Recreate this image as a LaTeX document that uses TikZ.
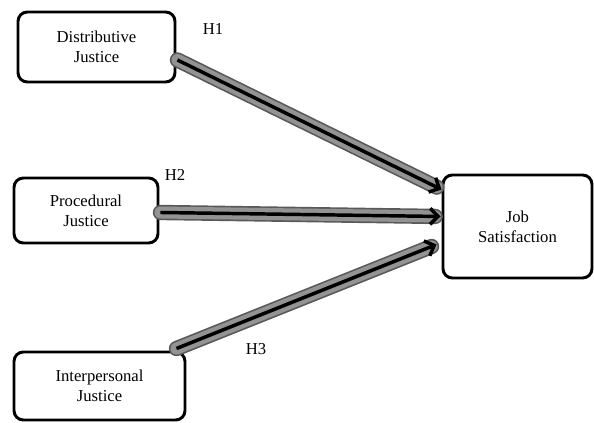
\documentclass[tikz,border=0pt]{standalone}
\usepackage{fontspec}
\setmainfont{Liberation Serif}
\usetikzlibrary{arrows.meta,calc}
\begin{document}
\begin{tikzpicture}[x=0.75pt,y=-0.75pt]
\tikzstyle{block} = [rectangle, rounded corners=7pt, line width=2.2pt, draw=black, fill=white, align=center, font=\fontsize{12.5}{15}\selectfont]
\tikzstyle{halo} = [line width=11.5pt, draw=gray!70!black, line cap=round]
\tikzstyle{haloin} = [line width=9pt, draw=gray!85, line cap=round]
\tikzstyle{arrow} = [line width=2.6pt, -{Straight Barb[length=6pt,width=12pt]}]
\tikzstyle{hlabel} = [font=\fontsize{12.5}{15}\selectfont]
%
\useasboundingbox (0,0) rectangle (594,423);
\node (distributive)  [block, minimum width=117.75pt, minimum height=52.5pt] at (96.5,47)  {Distributive\\Justice};
\node (procedural)    [block, minimum width=108pt,    minimum height=48.75pt] at (86,210.5) {Procedural\\Justice};
\node (interpersonal) [block, minimum width=128.25pt, minimum height=51pt]   at (99.5,386) {Interpersonal\\Justice};
\node (job)           [block, minimum width=111.75pt, minimum height=77.25pt] at (517.5,226.5) {Job\\Satisfaction};
%
\coordinate (s1) at ($(distributive.east)+(1,13)$);
\coordinate (s2) at ($(procedural.east)+(1,2)$);
\coordinate (s3) at ($(interpersonal.north east)+(-10,-2)$);
\coordinate (e1) at ($(job.west)+(0,-37)$);
\coordinate (e2) at ($(job.west)+(-1,-10)$);
\coordinate (e3) at ($(job.west)+(-5,18)$);
%
\foreach \s/\e in {s1/e1,s2/e2,s3/e3} {
  \draw [halo] (\s) -- ($(\e)!4pt!(\s)$);
  \draw [haloin] (\s) -- ($(\e)!4pt!(\s)$);
}
\draw [arrow] (s1) -- (e1);
\draw [arrow] (s2) -- (e2);
\draw [arrow] (s3) -- (e3);
%
\node (h1) [hlabel] at (213,29)  {H1};
\node (h2) [hlabel] at (175,175) {H2};
\node (h3) [hlabel] at (256,349) {H3};
\end{tikzpicture}
\end{document}
